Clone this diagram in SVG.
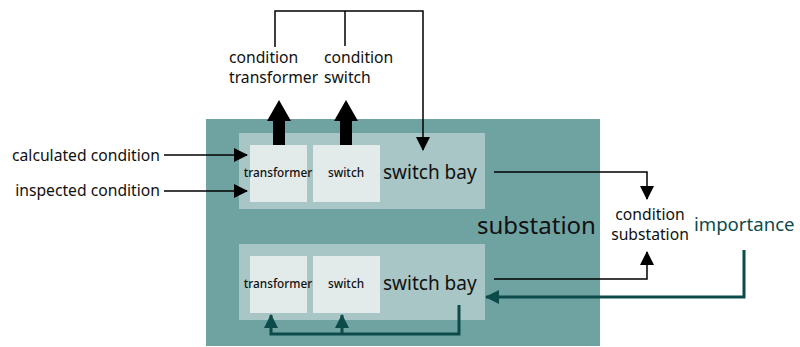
<svg xmlns="http://www.w3.org/2000/svg" width="800" height="347" viewBox="0 0 800 347">
<style>
text{font-family:"Noto Sans","Liberation Sans",sans-serif;fill:#111}
.lbl{font-size:15.7px}
.small{font-size:11.8px;font-weight:500}
.bay{font-size:19px}
.imp{font-size:18.6px;fill:#0d4a4a}
.thin{fill:none;stroke:#000;stroke-width:1.5}
.dark{fill:none;stroke:#0d4a4a;stroke-width:3}
</style>
<defs>
<marker id="ah" markerWidth="14" markerHeight="14" refX="13" refY="7" orient="auto" markerUnits="userSpaceOnUse">
<path d="M0,0 L14,7 L0,14 Z" fill="#000"/>
</marker>
<marker id="ahd" markerWidth="14" markerHeight="14" refX="13" refY="7" orient="auto" markerUnits="userSpaceOnUse">
<path d="M0,0 L14,7 L0,14 Z" fill="#0d4a4a"/>
</marker>
</defs>
<g id="substation">
<rect x="206" y="119" width="394" height="227" fill="#6fa3a2"/>
<text x="477" y="234" style="font-size:24px">substation</text>
</g>
<g id="bay1">
<rect x="239" y="133" width="246" height="76" fill="#a8c6c5"/>
<text class="bay" x="383" y="179">switch bay</text>
</g>
<g id="transformer1">
<rect x="250" y="145" width="57" height="57" fill="#e3eaea"/>
<text class="small" x="278" y="177" text-anchor="middle">transformer</text>
</g>
<g id="switch1">
<rect x="313" y="145" width="67" height="57" fill="#e3eaea"/>
<text class="small" x="346" y="177" text-anchor="middle">switch</text>
</g>
<g id="bay2">
<rect x="239" y="244" width="246" height="76" fill="#a8c6c5"/>
<text class="bay" x="383" y="290">switch bay</text>
</g>
<g id="transformer2">
<rect x="250" y="256" width="57" height="57" fill="#e3eaea"/>
<text class="small" x="278" y="288" text-anchor="middle">transformer</text>
</g>
<g id="switch2">
<rect x="313" y="256" width="67" height="57" fill="#e3eaea"/>
<text class="small" x="346" y="288" text-anchor="middle">switch</text>
</g>
<g id="cond-transformer">
<text class="lbl" x="229" y="63">condition</text>
<text class="lbl" x="229" y="83">transformer</text>
</g>
<g id="cond-switch">
<text class="lbl" x="324" y="63">condition</text>
<text class="lbl" x="324" y="83">switch</text>
</g>
<g id="calc">
<text class="lbl" x="160" y="161" text-anchor="end">calculated condition</text>
</g>
<g id="insp">
<text class="lbl" x="160" y="196" text-anchor="end">inspected condition</text>
</g>
<g id="cond-substation">
<text class="lbl" x="650" y="220" text-anchor="middle">condition</text>
<text class="lbl" x="650" y="240" text-anchor="middle">substation</text>
</g>
<g id="importance">
<text class="imp" x="694" y="231">importance</text>
</g>
<g id="connectors">
<path d="M273,145 V121 H267 L279,100 L291,121 H285 V145 Z" fill="#000"/>
<path d="M340,145 V121 H334 L346,100 L358,121 H352 V145 Z" fill="#000"/>
<path class="thin" d="M275,47 V11 H423 V150" marker-end="url(#ah)"/>
<path class="thin" d="M345,11 V46"/>
<path class="thin" d="M164,155 H247" marker-end="url(#ah)"/>
<path class="thin" d="M164,191 H247" marker-end="url(#ah)"/>
<path class="thin" d="M494,172 H647 V199" marker-end="url(#ah)"/>
<path class="thin" d="M494,279 H647 V252" marker-end="url(#ah)"/>
<path class="dark" d="M744,250 V297 H486" marker-end="url(#ahd)"/>
<path class="dark" d="M459,305 V334 H271 V315" marker-end="url(#ahd)"/>
<path class="dark" d="M342,334 V315" marker-end="url(#ahd)"/>
</g>
</svg>
